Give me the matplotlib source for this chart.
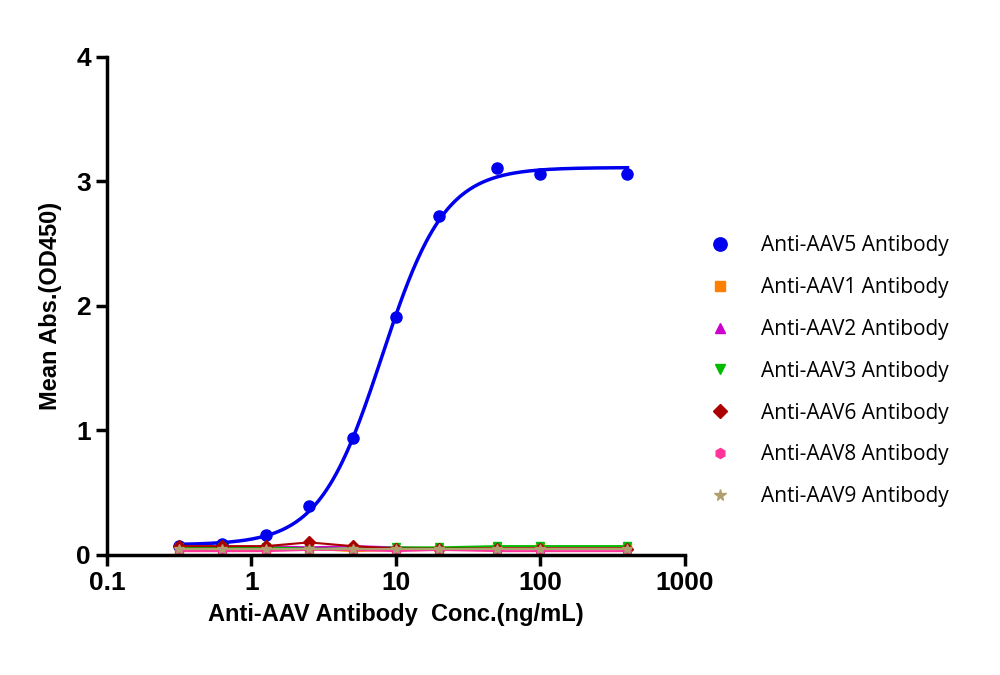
import matplotlib
matplotlib.use("Agg")
import matplotlib.pyplot as plt
import numpy as np

conc = [0.3125, 0.625, 1.25, 2.5, 5, 10, 20, 50, 100, 400]
aav5 = [0.07, 0.09, 0.16, 0.39, 0.94, 1.91, 2.72, 3.11, 3.06, 3.06]
aav1 = [0.04, 0.03, 0.04, 0.05, 0.03, 0.04, 0.05, 0.06, 0.06, 0.06]
aav2 = [0.05, 0.05, 0.07, 0.06, 0.07, 0.06, 0.05, 0.05, 0.05, 0.05]
aav3 = [0.06, 0.06, 0.06, 0.05, 0.05, 0.06, 0.06, 0.07, 0.07, 0.07]
aav6 = [0.07, 0.07, 0.07, 0.10, 0.07, 0.05, 0.05, 0.05, 0.05, 0.05]
aav8 = [0.03, 0.03, 0.03, 0.04, 0.04, 0.03, 0.04, 0.03, 0.03, 0.03]
aav9 = [0.05, 0.05, 0.05, 0.05, 0.05, 0.05, 0.05, 0.05, 0.05, 0.05]
# 4PL fit parameters for AAV5 (bottom, top, EC50, hill)
fit = (0.08, 3.11, 8.0, 2.0)

fig = plt.figure(figsize=(10, 6.75), dpi=100)
ax = fig.add_axes([0.107, 0.178, 0.578, 0.738])

xx = np.logspace(np.log10(0.3125), np.log10(400), 300)
b, t, ec, h = fit
ax.plot(xx, b + (t - b) * (xx / ec) ** h / (1 + (xx / ec) ** h), color="#0000ee", lw=2.5)

series = [
    (aav5, "Anti-AAV5 Antibody", "#0000ee", "o", 8),
    (aav1, "Anti-AAV1 Antibody", "#ff8000", "s", 6),
    (aav2, "Anti-AAV2 Antibody", "#cc00cc", "^", 6),
    (aav3, "Anti-AAV3 Antibody", "#00bb00", "v", 6),
    (aav6, "Anti-AAV6 Antibody", "#aa0000", "D", 6),
    (aav8, "Anti-AAV8 Antibody", "#ff3399", "h", 6),
    (aav9, "Anti-AAV9 Antibody", "#b0a070", "*", 7),
]
handles = []
for i, (vals, lab, col, m, ms) in enumerate(series):
    if i > 0:
        ax.plot(conc, vals, color=col, lw=1.5)
    hd, = ax.plot(conc, vals, ls="none", marker=m, color=col, ms=ms, label=lab)
    handles.append(hd)

ax.set_xscale("log")
ax.set_xlim(0.1, 1000)
ax.set_ylim(0, 4)
ax.set_yticks([0, 1, 2, 3, 4])
ax.set_xticks([0.1, 1, 10, 100, 1000])
ax.set_xticklabels(["0.1", "1", "10", "100", "1000"])
ax.minorticks_off()
for s in ["top", "right"]:
    ax.spines[s].set_visible(False)
for s in ["left", "bottom"]:
    ax.spines[s].set_linewidth(2.5)
ax.tick_params(width=2.5, length=8, labelsize=19)
for lbl in ax.get_xticklabels() + ax.get_yticklabels():
    lbl.set_fontweight("bold")
    lbl.set_fontfamily("Liberation Sans")
ax.set_xlabel("Anti-AAV Antibody  Conc.(ng/mL)", fontsize=17, fontweight="bold",
              fontfamily="Liberation Sans", labelpad=6)
ax.set_ylabel("Mean Abs.(OD450)", fontsize=17, fontweight="bold",
              fontfamily="Liberation Sans", labelpad=10)

fig.legend(handles=handles, loc="center left", bbox_to_anchor=(0.68, 0.45),
           frameon=False, prop={"family": "Open Sans", "size": 15},
           labelspacing=1.0, handletextpad=1.0, markerscale=1.2)

fig.savefig("out.png", dpi=100)
